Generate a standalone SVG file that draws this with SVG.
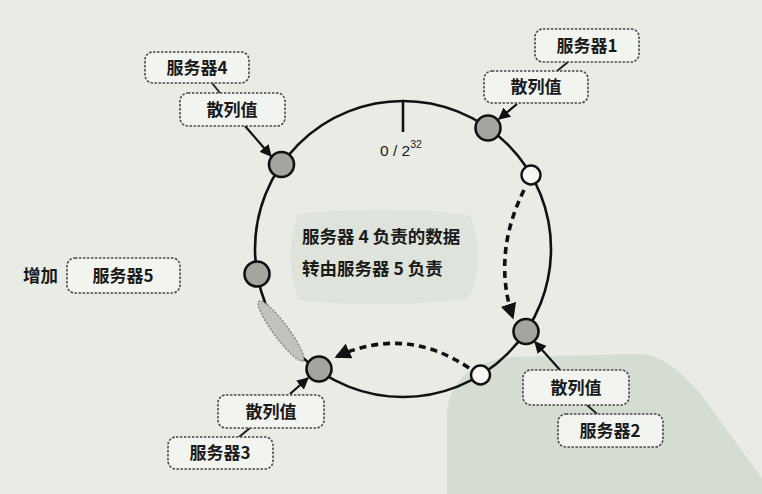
<svg xmlns="http://www.w3.org/2000/svg" width="762" height="494" viewBox="0 0 762 494">
<defs>
<style>
.box{fill:#f2f4f0;stroke:#4a4a4a;stroke-width:1.6;stroke-dasharray:2.5 1.5}
.lbl{font-family:"Noto Sans CJK SC","Liberation Sans",sans-serif;font-size:17px;font-weight:bold;fill:#1a1a1a;text-anchor:middle}
.ctr{font-family:"Noto Sans CJK SC","Liberation Sans",sans-serif;font-size:17.5px;font-weight:bold;fill:#1a1a1a}
.node{fill:#a2a69f;stroke:#111;stroke-width:2.6}
.open{fill:#f6f7f3;stroke:#111;stroke-width:2.4}
.arr{stroke:#111;stroke-width:2.2;fill:none}
.dash{stroke:#111;stroke-width:3.6;fill:none;stroke-dasharray:7 5}
.tie{stroke:#222;stroke-width:2}
</style>
<marker id="ah" viewBox="0 0 10 10" refX="9" refY="5" markerWidth="12" markerHeight="12" markerUnits="userSpaceOnUse" orient="auto">
<path d="M0,0 L10,5 L0,10 Z" fill="#111"/>
</marker>
<marker id="ahd" viewBox="0 0 10 10" refX="9" refY="5" markerWidth="16" markerHeight="16" markerUnits="userSpaceOnUse" orient="auto">
<path d="M0,0 L10,5 L0,10 Z" fill="#111"/>
</marker>
</defs>
<rect width="762" height="494" fill="#e8ece5"/>
<path d="M447,494 L447,412 C450,380 472,362 512,357 L640,354 C664,356 682,372 702,396 L762,478 L762,494 Z" fill="#d5ddd3"/>
<path d="M298,214 C340,208 440,208 470,216 C482,240 480,282 468,298 C420,306 340,306 300,300 C288,280 288,236 298,214 Z" fill="#dee4db"/>

<g id="ring">
<circle cx="403" cy="249" r="148" fill="none" stroke="#111" stroke-width="2.6"/>
<line x1="403" y1="101" x2="403" y2="132" stroke="#111" stroke-width="2.6"/>
<text x="380" y="156" font-family="Liberation Sans, sans-serif" font-size="15.5" fill="#1a1a1a">0 / 2<tspan dy="-8" font-size="10.5">32</tspan></text>
</g>

<g id="transfer-zone">
<ellipse cx="281" cy="331" rx="37" ry="7.5" transform="rotate(53.4 281 331)" fill="#bfc3bc" stroke="#8a8e88" stroke-width="1.5" stroke-dasharray="2 1.5"/>
</g>

<g id="connectors">
<line class="tie" x1="212" y1="83" x2="220" y2="93"/>
<line class="tie" x1="568" y1="62" x2="557" y2="71"/>
<line class="tie" x1="587" y1="405" x2="597" y2="414"/>
<line class="tie" x1="250" y1="428" x2="239" y2="437"/>
<line class="arr" x1="245" y1="126" x2="271" y2="156" marker-end="url(#ah)"/>
<line class="arr" x1="517" y1="104" x2="499" y2="119" marker-end="url(#ah)"/>
<line class="arr" x1="560" y1="370" x2="535" y2="342" marker-end="url(#ah)"/>
<line class="arr" x1="290" y1="394" x2="308" y2="378" marker-end="url(#ah)"/>
<path class="dash" d="M524,190 Q492,255 513,318" marker-end="url(#ahd)"/>
<path class="dash" d="M469,368 Q405,325 336,357" marker-end="url(#ahd)"/>
</g>

<g id="ring-nodes">
<circle class="node" cx="281.5" cy="164.5" r="12.5"/>
<circle class="node" cx="488" cy="128" r="12.5"/>
<circle class="open" cx="531" cy="175" r="9.5"/>
<circle class="node" cx="526" cy="331.5" r="12.5"/>
<circle class="open" cx="480.5" cy="375" r="9.5"/>
<circle class="node" cx="319" cy="369" r="12.5"/>
<circle class="node" cx="257" cy="274" r="12.5"/>
</g>

<g id="server4">
<rect class="box" x="145" y="52" width="104" height="31" rx="8"/>
<text class="lbl" x="197" y="74">服务器4</text>
<rect class="box" x="180" y="93" width="105" height="33" rx="8"/>
<text class="lbl" x="232" y="116">散列值</text>
</g>

<g id="server1">
<rect class="box" x="535" y="29" width="104" height="33" rx="8"/>
<text class="lbl" x="587" y="52">服务器1</text>
<rect class="box" x="484" y="71" width="104" height="32" rx="8"/>
<text class="lbl" x="536" y="93">散列值</text>
</g>

<g id="server2">
<rect class="box" x="523" y="370" width="106" height="35" rx="8"/>
<text class="lbl" x="576" y="394">散列值</text>
<rect class="box" x="558" y="414" width="105" height="33" rx="8"/>
<text class="lbl" x="610" y="437">服务器2</text>
</g>

<g id="server3">
<rect class="box" x="218" y="395" width="106" height="33" rx="8"/>
<text class="lbl" x="271" y="418">散列值</text>
<rect class="box" x="168" y="437" width="105" height="32" rx="8"/>
<text class="lbl" x="220" y="459">服务器3</text>
</g>

<g id="server5">
<text class="ctr" x="23" y="282" font-size="17">增加</text>
<rect class="box" x="67" y="258" width="113" height="35" rx="8"/>
<text class="lbl" x="123" y="282">服务器5</text>
</g>

<g id="note">
<text class="ctr" x="302" y="243">服务器 4 负责的数据</text>
<text class="ctr" x="302" y="275">转由服务器 5 负责</text>
</g>
</svg>
